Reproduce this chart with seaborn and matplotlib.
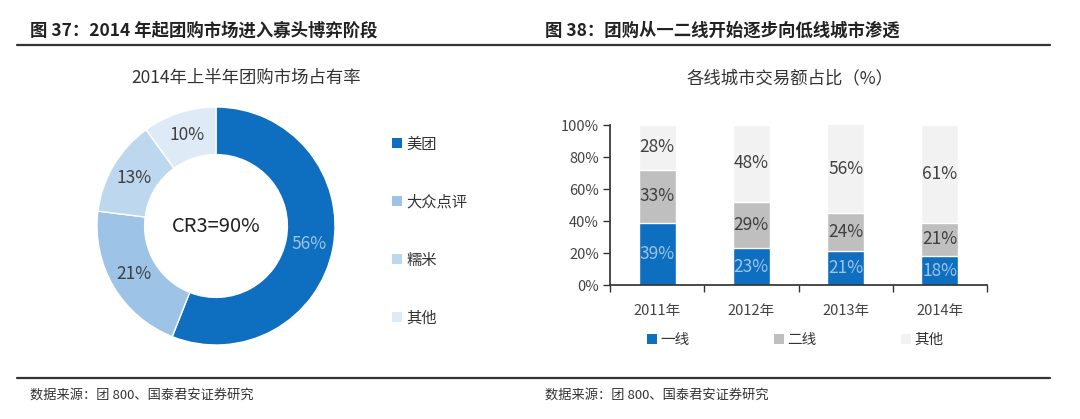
import numpy as np
import pandas as pd
import matplotlib
matplotlib.use('Agg')
import matplotlib.pyplot as plt
import seaborn as sns
from matplotlib.patches import Patch
from matplotlib.lines import Line2D

# data
pie_labels = ['美团', '大众点评', '糯米', '其他']
pie_values = [56, 21, 13, 10]
pie_colors = ['#0e6ebf', '#9dc3e6', '#bdd7ee', '#deebf7']

years = ['2011年', '2012年', '2013年', '2014年']
tier1 = [39, 23, 21, 18]
tier2 = [33, 29, 24, 21]
other = [28, 48, 56, 61]
bar_colors = {'一线': '#0e6ebf', '二线': '#bfbfbf', '其他': '#f2f2f2'}

sns.set_theme(style='white')
plt.rcParams['font.family'] = ['Noto Sans CJK SC', 'DejaVu Sans']

W, H = 1080, 419
fig = plt.figure(figsize=(W / 100, H / 100), dpi=100)

def fx(px):
    return px / W

def fy(py):
    return 1 - py / H

# headers and rules
fig.text(fx(30), fy(31), '图 37：2014 年起团购市场进入寡头博弈阶段', fontsize=12.5,
         fontweight='bold', color='#222222', va='center')
fig.text(fx(545), fy(31), '图 38：团购从一二线开始逐步向低线城市渗透', fontsize=12.5,
         fontweight='bold', color='#222222', va='center')
fig.add_artist(Line2D([fx(17), fx(1050)], [fy(45), fy(45)], color='#333333', lw=1.6))
fig.add_artist(Line2D([fx(17), fx(1050)], [fy(378), fy(378)], color='#333333', lw=1.6))
fig.text(fx(30), fy(395), '数据来源：团 800、国泰君安证券研究', fontsize=9.5, color='#333333', va='center')
fig.text(fx(545), fy(395), '数据来源：团 800、国泰君安证券研究', fontsize=9.5, color='#333333', va='center')

# donut
fig.text(fx(246), fy(78), '2014年上半年团购市场占有率', fontsize=12.5, color='#333333',
         ha='center', va='center')
ax1 = fig.add_axes([fx(97), fy(345), fx(238), 238 / H])
wedges, texts, autotexts = ax1.pie(pie_values, colors=pie_colors, startangle=90, counterclock=False,
                                   radius=1, wedgeprops=dict(width=0.4, edgecolor='white', linewidth=1),
                                   autopct='%d%%', pctdistance=0.8)
for i, t in enumerate(autotexts):
    t.set_fontsize(12.5)
    t.set_color('#9dc3e6' if i == 0 else '#404040')
ax1.text(0, 0, 'CR3=90%', ha='center', va='center', fontsize=14.5, color='#222222')
ax1.set_xlim(-1, 1)
ax1.set_ylim(-1, 1)
ax1.set_aspect('equal')

handles = [Patch(facecolor=c, edgecolor='none') for c in pie_colors]
fig.legend(handles, pie_labels, loc='upper left', bbox_to_anchor=(fx(378), fy(122)),
           frameon=False, fontsize=11, handlelength=0.65, handleheight=0.65,
           handletextpad=0.3, labelspacing=2.68, labelcolor='#333333')

# stacked bars
fig.text(fx(790), fy(78), '各线城市交易额占比（%）', fontsize=12.5, color='#333333',
         ha='center', va='center')
ax2 = fig.add_axes([fx(610), fy(285), fx(377), 160 / H])
df = pd.DataFrame({'year': years, '一线': tier1, '二线': tier2, '其他': other})
df['c2'] = df['一线'] + df['二线']
df['c3'] = df['c2'] + df['其他']
sns.barplot(data=df, x='year', y='c3', color=bar_colors['其他'], width=0.39, ax=ax2, saturation=1)
sns.barplot(data=df, x='year', y='c2', color=bar_colors['二线'], width=0.39, ax=ax2, saturation=1)
sns.barplot(data=df, x='year', y='一线', color=bar_colors['一线'], width=0.39, ax=ax2, saturation=1)

for i in range(len(years)):
    ax2.text(i, tier1[i] / 2, f'{tier1[i]}%', ha='center', va='center', fontsize=12.5, color='#9dc3e6')
    ax2.text(i, tier1[i] + tier2[i] / 2, f'{tier2[i]}%', ha='center', va='center', fontsize=12.5, color='#404040')
    ax2.text(i, tier1[i] + tier2[i] + (100 - tier1[i] - tier2[i]) / 2, f'{other[i]}%', ha='center',
             va='center', fontsize=12.5, color='#404040')

ax2.set_ylim(0, 100)
ax2.set_xlim(-0.5, 3.5)
ax2.set_yticks(range(0, 101, 20))
ax2.set_yticklabels([f'{v}%' for v in range(0, 101, 20)])
ax2.set_xlabel('')
ax2.set_ylabel('')
ax2.set_xticks([-0.5, 0.5, 1.5, 2.5, 3.5], minor=False)
ax2.set_xticklabels([])
ax2.set_xticks(range(4), minor=True)
ax2.set_xticklabels(years, minor=True)
ax2.tick_params(axis='x', which='major', direction='out', length=5, width=1, color='#333333', bottom=True)
ax2.tick_params(axis='x', which='minor', length=0, labelsize=10.5, labelcolor='#444444', pad=14)
ax2.tick_params(axis='y', direction='out', length=5, width=1, color='#333333', left=True,
                labelsize=10.5, labelcolor='#444444', pad=3)
sns.despine(ax=ax2, top=True, right=True)
ax2.spines['left'].set_color('#333333')
ax2.spines['bottom'].set_color('#333333')

handles2 = [Patch(facecolor=bar_colors[k], edgecolor='none') for k in ['一线', '二线', '其他']]
fig.legend(handles2, ['一线', '二线', '其他'], loc='center left', bbox_to_anchor=(fx(634), fy(340)),
           ncol=3, frameon=False, fontsize=10.5, handlelength=0.7, handleheight=0.7,
           handletextpad=0.2, columnspacing=5.8, labelcolor='#333333')

fig.savefig('out.png', dpi=100, facecolor='white')
